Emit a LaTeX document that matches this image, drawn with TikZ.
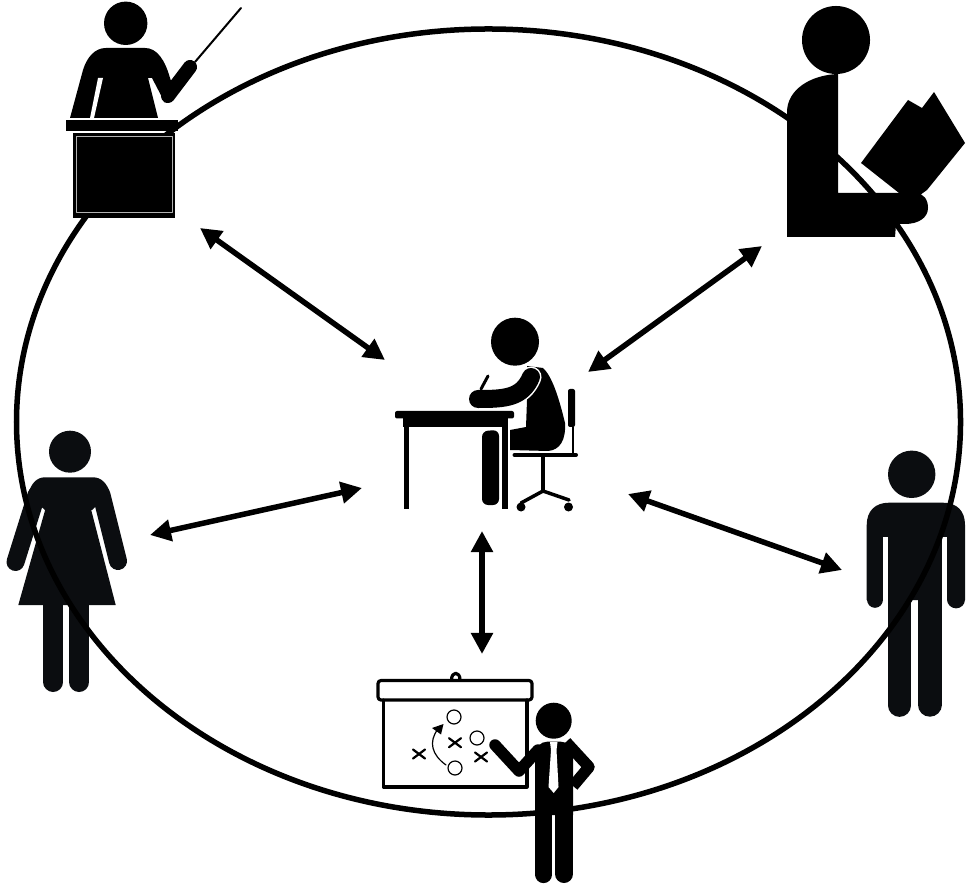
\documentclass[tikz,border=0pt]{standalone}
\usetikzlibrary{arrows.meta}

\definecolor{figblack}{HTML}{0B0D10}

\begin{document}
\begin{tikzpicture}[x=0.01cm, y=-0.01cm, line cap=round, line join=round,
	link/.style={line width=0.055cm, {Triangle[length=0.21cm,width=0.21cm]}-{Triangle[length=0.21cm,width=0.21cm]}},
	limb/.style={line width=#1, line cap=round},
	board/.style={line width=0.032cm}]
	
	\useasboundingbox (0,0) rectangle (968,889);
	
	% woman (left), below the big ring
	\begin{scope}[figblack]
		\fill (70,451.7) circle (21);
		\draw[limb=0.18cm] (36.5,495) -- (15.5,562);
		\draw[limb=0.18cm] (101.5,495) -- (118,561);
		\fill (45,510) -- (28,495) .. controls (31,483) and (37,477.3) .. (45,477.3)
			-- (93,477.3) .. controls (101,477.3) and (107,483) .. (110,493) -- (92,510) -- cycle;
		\fill (45.7,508) -- (18.3,605) -- (115.7,605) -- (90.7,508) -- cycle;
		\draw[limb=0.2cm] (53.3,600) -- (53.3,682);
		\draw[limb=0.2cm] (79.2,600) -- (79.2,682);
	\end{scope}
	
	% man (right), below the big ring
	\begin{scope}[figblack]
		\fill (911.7,474.3) circle (23.7);
		\fill (866.7,600) -- (866.7,525) .. controls (866.7,511) and (875,502.7) .. (889,502.7)
			-- (943,502.7) .. controls (957,502.7) and (965,511) .. (965,525) -- (965,600) -- cycle;
		\draw[limb=0.166cm] (875,590) -- (875,599.5);
		\draw[limb=0.177cm] (956.2,590) -- (956.2,599.5);
		\fill[white] (883.3,536.7) rectangle (888.3,615);
		\fill[white] (941.7,536.7) rectangle (947.3,615);
		\draw[limb=0.227cm] (899.6,600) -- (899.6,705.5);
		\draw[limb=0.24cm] (929.7,600) -- (929.7,704.7);
	\end{scope}
	
	% big ring
	\coordinate (ringc) at (488.5,422);
	\draw[line width=0.055cm] (ringc) ellipse [x radius=472, y radius=393];
	
	% teacher at the desk
	\fill (125.7,23.3) circle (21.7);
	\fill (70,118) -- (83,70) .. controls (87,57) and (95,48) .. (106,48) -- (145,48)
		.. controls (157,48) and (165,60) .. (170,78) -- (172,84) -- (165,103) -- (152,78)
		-- (148,78) -- (158,118) -- cycle;
	\draw[limb=0.14cm] (168,96) -- (190,67);
	\draw[line width=0.02cm] (195,62) -- (241,8);
	\fill[white] (98,78) -- (103,78) -- (94,118) -- (90,118) -- cycle;
	\fill (66,120) rectangle (178,131);
	\fill (73,133) rectangle (175,218);
	\draw[gray!60, line width=0.009cm, line cap=butt] (76.5,136) -- (172.5,136) -- (172.5,212) -- (76.5,212) -- cycle;
	
	% reader
	\fill (836,40) circle (34);
	\fill (787,237) -- (787,112) .. controls (787,90) and (810,75) .. (838,74)
		-- (838,193) -- (915,193) .. controls (924,193) and (928,200) .. (928,208)
		.. controls (928,218) and (918,224) .. (905,224) -- (896,224) -- (895,237) -- cycle;
	\fill (861,163) -- (908,100) -- (922,108) -- (934,92) -- (965,143) -- (927,190) -- (920,195) -- (899,193) -- cycle;
	
	% student at the table
	\fill (515,341.7) circle (24);
	\fill (527,366) -- (543,368) .. controls (552,376) and (559,398) .. (565,423)
		.. controls (566,440) and (560,450) .. (548,451) -- (510,450) -- (510,430)
		-- (526,427) -- (527,400) -- cycle;
	\draw[white, line width=0.21cm] (531,377) .. controls (522,398) and (505,399) .. (478,399);
	\draw[limb=0.18cm] (531,377) .. controls (522,398) and (505,399) .. (478,399);
	\fill[white] (496,408.5) rectangle (526,411);
	\draw[line width=0.03cm] (481,389) -- (488,376);
	\fill[rounded corners=0.02cm] (395,411) rectangle (514,418.5);
	\fill (403,418) rectangle (508,427);
	\fill (403.5,425) rectangle (409,509);
	\fill (501.7,425) rectangle (507.7,509);
	\fill[rounded corners=0.06cm] (482,505) -- (482,431) -- (499,430) -- (499,505) -- cycle;
	\fill[rounded corners=0.02cm] (568,389) rectangle (575,427);
	\draw[line width=0.018cm] (573,427) -- (573,455);
	\draw[line width=0.04cm] (514.5,455) -- (576,455);
	\draw[line width=0.035cm] (543,457) -- (543,491);
	\draw[line width=0.035cm] (521,503) -- (543,491) -- (569,500);
	\fill (521,507) circle (4.5);
	\fill (568.5,507) circle (4.5);
	
	% presenter with the board
	\fill[white] (383.5,700) rectangle (527,787);
	\draw[board, fill=white] (451.5,680) .. controls (451.5,671) and (460,671) .. (460,680);
	\draw[board, fill=white, rounded corners=0.03cm] (378,680.5) rectangle (532,700);
	\draw[board] (383.5,700) -- (383.5,787) -- (527,787) -- (527,700);
	\foreach \cx/\cy in {454/717, 477/738, 455/768}
		\draw[line width=0.012cm] (\cx,\cy) circle (7);
	\foreach \cx/\cy in {455/742.7, 481/757, 419/754}
		\draw[line width=0.022cm] (\cx-6,\cy-4.5) -- (\cx+6,\cy+4.5) (\cx-6,\cy+4.5) -- (\cx+6,\cy-4.5);
	\draw[line width=0.012cm] (446,765) .. controls (432,755) and (428,742) .. (438,729);
	\fill (432,728) -- (443.5,724) -- (441,734.5) -- cycle;
	
	\fill (553.7,720.7) circle (18);
	\fill (535,815) -- (535,755) .. controls (535,747) and (541,741.7) .. (547,741.7)
		-- (561,741.7) .. controls (567,741.7) and (573,747) .. (573,755) -- (573,815) -- cycle;
	\draw[limb=0.172cm] (543.6,810) -- (543.6,874.5);
	\draw[limb=0.18cm] (564,810) -- (564,874);
	\fill[white] (552.2,817) rectangle (555,866);
	\draw[limb=0.115cm] (538,750) -- (519,771) -- (495,745);
	\draw[limb=0.115cm, line cap=butt] (566,742) -- (589,767) -- (573,786);
	\fill[white] (550,742) -- (557.5,742) -- (556.5,750) -- (558.5,787) -- (553.7,793) -- (548.5,787) -- (551,750) -- cycle;
	
	% links between the student and the others
	\coordinate (teacherEnd) at (200,228);
	\coordinate (readerEnd) at (762,246);
	\coordinate (womanEnd) at (150,535);
	\coordinate (manEnd) at (842,570);
	\coordinate (presenterEnd) at (482,654);
	\coordinate (studentNW) at (385,360);
	\coordinate (studentNE) at (588,372);
	\coordinate (studentW) at (362,488);
	\coordinate (studentE) at (628,494);
	\coordinate (studentS) at (482,531);
	
	\draw[link] (teacherEnd) -- (studentNW);
	\draw[link] (readerEnd) -- (studentNE);
	\draw[link] (womanEnd) -- (studentW);
	\draw[link] (manEnd) -- (studentE);
	\draw[link] (presenterEnd) -- (studentS);
	
\end{tikzpicture}
\end{document}
